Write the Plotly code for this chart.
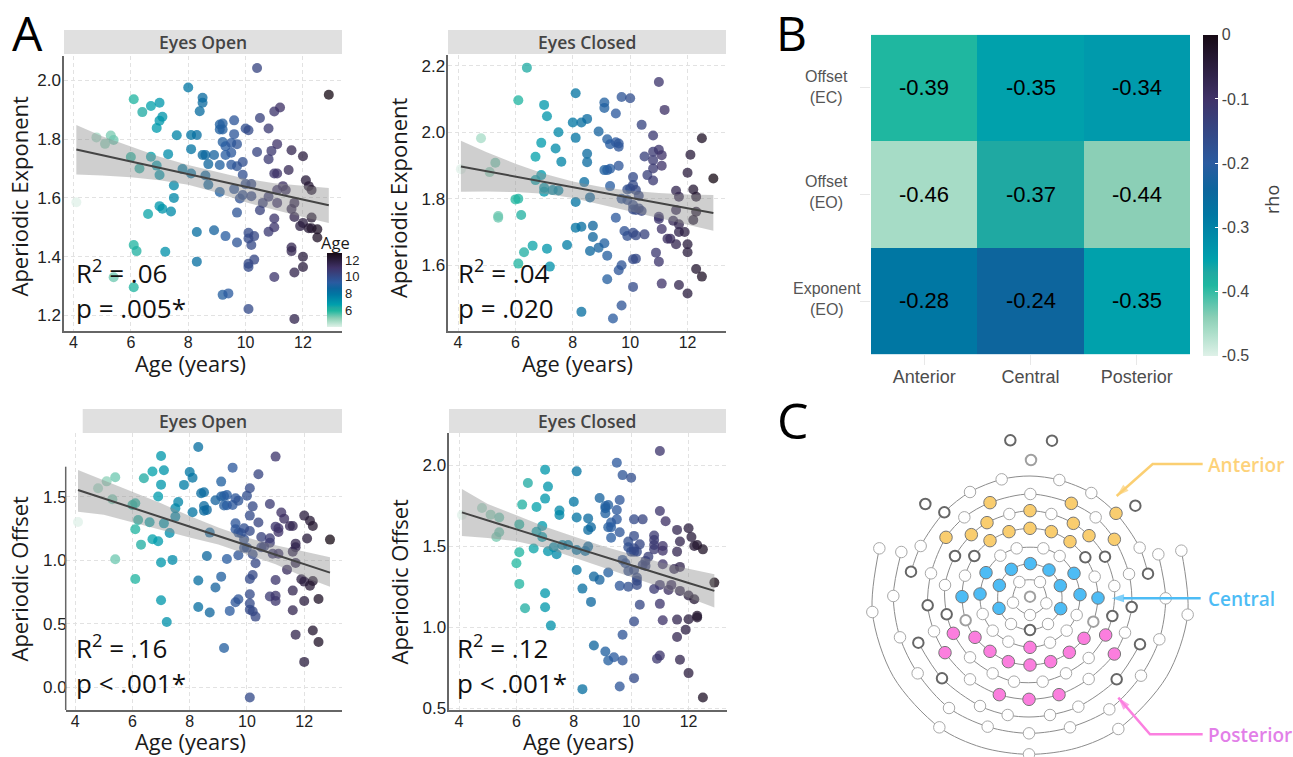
import plotly.graph_objects as go

W, H = 1293, 757
TICK_FONT = "Liberation Sans"
TEXT_FONT = "Open Sans"

# ---------- Panel A data: (age, value) ----------
EO_EXPONENT = [(4.1,1.585),(4.8,1.806),(5.1,1.784),(5.3,1.812),(5.4,1.797),(5.4,1.33),(6.0,1.739),(6.1,1.936),(6.1,1.44),(6.1,1.296),(6.2,1.419),(6.3,1.70),(6.4,1.892),(6.6,1.545),(6.7,1.913),(6.7,1.74),(6.9,1.838),(6.9,1.71),(7.0,1.924),(7.0,1.863),(7.0,1.678),(7.0,1.572),(7.1,1.876),(7.1,1.563),(7.2,1.417),(7.3,1.749),(7.4,1.554),(7.5,1.642),(7.5,1.60),(7.6,1.813),(7.8,1.698),(8.0,1.976),(8.1,1.814),(8.1,1.766),(8.1,1.683),(8.3,1.814),(8.3,1.484),(8.3,1.383),(8.4,1.895),(8.5,1.941),(8.5,1.924),(8.5,1.746),(8.6,1.746),(8.6,1.676),(8.7,1.715),(8.7,1.645),(8.9,1.746),(8.9,1.49),(9.1,1.85),(9.1,1.833),(9.1,1.712),(9.1,1.62),(9.2,1.853),(9.2,1.833),(9.2,1.79),(9.2,1.27),(9.3,1.776),(9.3,1.746),(9.3,1.47),(9.4,1.275),(9.5,1.787),(9.5,1.754),(9.5,1.713),(9.6,1.864),(9.6,1.817),(9.6,1.63),(9.7,1.783),(9.7,1.708),(9.7,1.55),(9.7,1.448),(9.8,1.598),(9.9,1.722),(9.9,1.679),(9.9,1.61),(10.0,1.836),(10.0,1.647),(10.1,1.83),(10.1,1.481),(10.1,1.462),(10.1,1.376),(10.1,1.365),(10.1,1.222),(10.2,1.647),(10.2,1.606),(10.2,1.44),(10.3,1.47),(10.3,1.39),(10.4,2.042),(10.4,1.756),(10.5,1.872),(10.5,1.558),(10.6,1.583),(10.8,1.836),(10.8,1.732),(10.8,1.604),(10.8,1.485),(10.9,1.76),(11.0,1.894),(11.0,1.683),(11.0,1.53),(11.0,1.50),(11.0,1.331),(11.1,1.783),(11.1,1.683),(11.1,1.627),(11.1,1.583),(11.2,1.908),(11.3,1.64),(11.4,1.627),(11.5,1.695),(11.6,1.762),(11.6,1.562),(11.6,1.431),(11.6,1.419),(11.7,1.583),(11.7,1.535),(11.7,1.346),(11.7,1.188),(11.9,1.504),(12.0,1.742),(12.0,1.515),(12.0,1.40),(12.0,1.365),(12.1,1.66),(12.2,1.64),(12.2,1.497),(12.3,1.627),(12.3,1.533),(12.3,1.497),(12.5,1.493),(12.5,1.465),(12.9,1.951)]

EC_EXPONENT = [(4.1,1.889),(4.8,1.982),(5.1,1.88),(5.3,1.908),(5.4,1.748),(5.4,1.743),(6.0,1.798),(6.1,2.096),(6.1,1.80),(6.1,1.605),(6.2,1.751),(6.3,1.639),(6.4,2.194),(6.6,1.659),(6.7,1.926),(6.7,1.856),(6.9,1.968),(6.9,1.871),(7.0,2.082),(7.0,1.833),(7.0,1.821),(7.1,2.048),(7.1,1.65),(7.2,1.596),(7.3,1.826),(7.4,1.951),(7.5,2.0),(7.5,1.825),(7.6,1.911),(7.8,1.661),(8.0,2.029),(8.1,2.117),(8.1,1.983),(8.1,1.79),(8.1,1.713),(8.3,2.029),(8.3,1.716),(8.3,1.46),(8.4,1.85),(8.5,2.04),(8.5,1.935),(8.5,1.91),(8.6,1.804),(8.6,1.643),(8.7,1.719),(8.7,1.685),(8.9,2.002),(8.9,1.653),(9.1,2.089),(9.1,2.073),(9.1,1.886),(9.1,1.666),(9.2,1.979),(9.2,1.886),(9.2,1.629),(9.2,1.558),(9.3,1.964),(9.3,1.89),(9.3,1.838),(9.4,1.44),(9.5,2.056),(9.5,1.97),(9.5,1.743),(9.6,1.966),(9.6,1.956),(9.6,1.899),(9.6,1.585),(9.7,2.106),(9.7,1.80),(9.7,1.60),(9.7,1.479),(9.8,1.703),(9.9,1.828),(9.9,1.796),(9.9,1.688),(10.0,2.102),(10.0,1.831),(10.1,1.865),(10.1,1.841),(10.1,1.781),(10.1,1.768),(10.1,1.698),(10.1,1.618),(10.1,1.535),(10.2,1.826),(10.2,1.766),(10.2,1.69),(10.2,1.62),(10.3,1.809),(10.3,1.771),(10.4,2.022),(10.4,1.763),(10.5,1.927),(10.5,1.693),(10.6,1.871),(10.8,1.99),(10.8,1.941),(10.8,1.916),(10.8,1.891),(10.8,1.855),(10.9,1.638),(11.0,2.151),(11.0,1.947),(11.0,1.746),(11.0,1.739),(11.0,1.611),(11.1,1.931),(11.1,1.899),(11.1,1.709),(11.1,1.545),(11.2,2.067),(11.3,1.68),(11.4,1.68),(11.5,1.734),(11.6,1.824),(11.6,1.766),(11.6,1.663),(11.7,1.806),(11.7,1.723),(11.7,1.70),(11.7,1.541),(11.9,1.70),(12.0,1.878),(12.0,1.663),(12.0,1.639),(12.0,1.515),(12.1,1.932),(12.2,1.828),(12.2,1.736),(12.3,1.806),(12.3,1.761),(12.3,1.589),(12.5,1.982),(12.5,1.566),(12.9,1.861)]

EO_OFFSET = [(4.1,1.303),(4.8,1.568),(5.1,1.623),(5.3,1.482),(5.4,1.655),(5.4,1.009),(6.0,1.437),(6.1,1.45),(6.1,1.245),(6.1,0.854),(6.2,1.319),(6.3,1.124),(6.4,1.647),(6.6,1.30),(6.7,1.70),(6.7,1.166),(6.9,1.503),(6.9,1.151),(7.0,1.823),(7.0,1.597),(7.0,0.983),(7.0,0.686),(7.1,1.71),(7.1,1.292),(7.2,0.515),(7.3,1.216),(7.4,1.004),(7.5,1.411),(7.5,1.345),(7.6,1.46),(7.8,1.595),(8.0,1.697),(8.1,1.652),(8.1,1.38),(8.3,1.894),(8.3,0.841),(8.3,0.633),(8.4,1.529),(8.5,1.537),(8.5,1.429),(8.5,1.392),(8.6,1.398),(8.6,1.035),(8.7,1.219),(8.7,0.589),(8.9,1.474),(8.9,0.786),(9.1,1.621),(9.1,1.503),(9.1,0.872),(9.2,1.508),(9.2,1.432),(9.2,0.31),(9.3,1.516),(9.3,1.434),(9.3,1.011),(9.4,0.602),(9.5,1.731),(9.5,1.437),(9.6,1.49),(9.6,1.292),(9.6,1.245),(9.6,0.67),(9.7,1.471),(9.7,1.219),(9.7,1.04),(9.7,0.694),(9.8,1.214),(9.9,1.253),(9.9,1.166),(9.9,1.10),(10.0,1.51),(10.0,1.10),(10.1,1.568),(10.1,1.353),(10.1,1.232),(10.1,0.854),(10.1,0.733),(10.1,0.66),(10.1,0.612),(10.1,-0.081),(10.2,1.426),(10.2,1.048),(10.2,0.885),(10.2,0.599),(10.3,0.977),(10.3,0.557),(10.4,1.679),(10.4,1.298),(10.5,1.185),(10.5,1.103),(10.6,1.109),(10.8,1.445),(10.8,1.174),(10.8,1.14),(10.8,0.715),(10.9,1.053),(11.0,1.818),(11.0,1.266),(11.0,0.846),(11.0,0.722),(11.0,0.68),(11.1,1.253),(11.1,1.224),(11.1,1.053),(11.2,1.377),(11.3,1.329),(11.4,0.927),(11.5,1.271),(11.6,1.271),(11.6,1.069),(11.6,0.762),(11.6,0.607),(11.7,1.132),(11.7,1.103),(11.7,0.98),(11.7,0.415),(11.9,0.851),(12.0,1.353),(12.0,0.833),(12.0,0.68),(12.0,0.2),(12.1,1.172),(12.2,1.313),(12.2,0.801),(12.3,1.271),(12.3,0.838),(12.3,0.447),(12.5,0.696),(12.5,0.357),(12.9,1.164)]

EC_OFFSET = [(4.1,1.692),(4.8,1.735),(5.1,1.694),(5.3,1.556),(5.4,1.676),(5.4,1.585),(6.0,1.394),(6.1,1.634),(6.1,1.462),(6.1,1.267),(6.2,1.756),(6.3,1.117),(6.4,1.889),(6.6,1.485),(6.7,1.741),(6.7,1.589),(6.9,1.624),(6.9,1.556),(7.0,1.971),(7.0,1.793),(7.0,1.209),(7.0,1.123),(7.1,1.867),(7.1,1.468),(7.2,1.01),(7.3,1.493),(7.4,1.45),(7.5,1.719),(7.5,1.692),(7.6,1.507),(7.8,1.507),(8.0,1.774),(8.1,1.961),(8.1,1.676),(8.1,1.476),(8.1,1.353),(8.3,1.238),(8.3,0.618),(8.4,1.47),(8.5,1.671),(8.5,1.6),(8.5,1.497),(8.6,1.616),(8.6,1.156),(8.7,1.312),(8.7,0.887),(8.9,1.797),(8.9,1.292),(9.1,1.747),(9.1,1.733),(9.1,1.702),(9.1,0.85),(9.2,1.754),(9.2,1.616),(9.2,1.337),(9.2,0.795),(9.3,1.645),(9.3,1.616),(9.3,1.552),(9.4,0.815),(9.5,2.014),(9.5,1.723),(9.5,1.665),(9.6,1.784),(9.6,1.585),(9.6,1.255),(9.6,0.634),(9.7,1.938),(9.7,1.415),(9.7,0.953),(9.7,0.795),(9.8,1.394),(9.9,1.528),(9.9,1.493),(9.9,1.347),(9.9,1.25),(10.0,1.922),(10.0,1.466),(10.1,1.665),(10.1,1.563),(10.1,1.487),(10.1,1.466),(10.1,1.353),(10.1,1.035),(10.1,0.686),(10.2,1.466),(10.2,1.306),(10.2,1.287),(10.2,1.261),(10.3,1.511),(10.3,1.138),(10.4,1.665),(10.4,1.384),(10.5,1.409),(10.5,1.378),(10.6,1.435),(10.8,1.565),(10.8,1.538),(10.8,1.507),(10.8,1.48),(10.8,1.236),(10.9,0.805),(11.0,2.086),(11.0,1.717),(11.0,1.261),(11.0,1.144),(11.0,0.825),(11.1,1.501),(11.1,1.472),(11.1,1.388),(11.1,1.043),(11.2,1.653),(11.3,1.23),(11.4,1.261),(11.5,1.359),(11.6,1.6),(11.6,1.466),(11.6,1.047),(11.6,0.94),(11.7,1.528),(11.7,1.372),(11.7,1.224),(11.7,0.799),(11.9,0.984),(12.0,1.61),(12.0,1.195),(12.0,1.049),(12.0,0.717),(12.1,1.556),(12.2,1.501),(12.2,1.172),(12.3,1.507),(12.3,1.07),(12.3,1.06),(12.5,1.48),(12.5,0.567),(12.9,1.275)]

# regression fit and confidence band, read at these ages
FIT_AGES = [4.1, 5, 6, 7, 8, 9, 10, 11, 12, 12.9]
EO_EXP_LINE = [1.765, 1.746, 1.724, 1.703, 1.681, 1.660, 1.638, 1.616, 1.595, 1.575]
EO_EXP_HI = [1.848, 1.810, 1.775, 1.740, 1.712, 1.688, 1.665, 1.650, 1.642, 1.634]
EO_EXP_LO = [1.680, 1.676, 1.670, 1.660, 1.645, 1.618, 1.585, 1.560, 1.535, 1.515]
EC_EXP_LINE = [1.897, 1.883, 1.867, 1.851, 1.835, 1.819, 1.803, 1.787, 1.771, 1.757]
EC_EXP_HI = [1.974, 1.940, 1.905, 1.875, 1.852, 1.835, 1.824, 1.817, 1.813, 1.811]
EC_EXP_LO = [1.821, 1.822, 1.820, 1.815, 1.802, 1.782, 1.762, 1.742, 1.722, 1.704]
EO_OFF_LINE = [1.555, 1.488, 1.414, 1.340, 1.266, 1.193, 1.118, 1.045, 0.970, 0.904]
EO_OFF_HI = [1.713, 1.630, 1.540, 1.450, 1.350, 1.260, 1.180, 1.120, 1.070, 1.025]
EO_OFF_LO = [1.384, 1.360, 1.300, 1.240, 1.180, 1.125, 1.050, 0.970, 0.870, 0.793]
EC_OFF_LINE = [1.708, 1.658, 1.603, 1.549, 1.494, 1.439, 1.384, 1.328, 1.273, 1.224]
EC_OFF_HI = [1.852, 1.760, 1.690, 1.620, 1.560, 1.500, 1.450, 1.400, 1.360, 1.326]
EC_OFF_LO = [1.563, 1.550, 1.530, 1.490, 1.430, 1.370, 1.310, 1.250, 1.180, 1.121]

# ---------- Panel B data ----------
REGIONS = ["Anterior", "Central", "Posterior"]
MEASURES = ["Exponent (EO)", "Offset (EO)", "Offset (EC)"]
MEASURE_LABELS = ["Exponent<br>(EO)", "Offset<br>(EO)", "Offset<br>(EC)"]
RHO = [[-0.28, -0.24, -0.35],
       [-0.46, -0.37, -0.44],
       [-0.39, -0.35, -0.34]]
RHO_TICKS = [-0.5, -0.4, -0.3, -0.2, -0.1, 0]
RHO_TICK_TEXT = ["-0.5", "-0.4", "-0.3", "-0.2", "-0.1", "0"]
AGE_TICKS = [6, 8, 10, 12]

COLORSCALE = [[0, "#dff1e8"], [0.08, "#a6dcc6"], [0.12, "#8bcfb6"], [0.22, "#1fb7a0"],
              [0.26, "#1fa9a2"], [0.30, "#00a1ac"], [0.32, "#009aac"], [0.44, "#0077a3"],
              [0.52, "#0d659d"], [0.60, "#2a5ba0"], [0.80, "#3f3268"], [1, "#170a15"]]

# ---------- Panel C data: electrodes (x, y, kind) on a schematic plane ----------
# kinds: w plain, d dark ring, g grey ring, a anterior, c central, p posterior, o wire only
RING_OUTER = [(88,385,"w"),(67,576,"w"),(130,770,"o"),(268,922,"w"),(395,982,"o"),(537,1003,"w"),(680,984,"o"),(805,927,"w"),(950,770,"o"),(1013,584,"w"),(994,392,"w")]
RING_SECOND = [(154,396,"w"),(130,528,"w"),(150,652,"w"),(203,760,"w"),(297,864,"w"),(413,920,"w"),(537,940,"w"),(660,922,"w"),(778,868,"w"),(873,767,"w"),(928,658,"w"),(947,535,"w"),(925,403,"w")]
RING_THIRD_TOP = [(183,455,"d"),(212,378,"w"),(283,277,"d"),(360,216,"w"),(455,178,"w"),(540,168,"o"),(628,180,"w"),(724,219,"w"),(798,280,"a"),(869,383,"w"),(894,461,"d")]
RING_THIRD_BOTTOM = [(205,668,"d"),(276,775,"d"),(390,858,"w"),(473,885,"w"),(537,891,"o"),(600,885,"w"),(685,860,"w"),(800,778,"d"),(870,673,"d")]
RING_FOURTH = [(233,556,"d"),(243,460,"w"),(288,352,"a"),(343,292,"w"),(420,248,"a"),(541,222,"w"),(664,250,"a"),(737,292,"w"),(793,358,"a"),(837,462,"w"),(845,561,"d"),(825,638,"w"),(793,702,"p"),(716,777,"w"),(627,824,"p"),(537,838,"p"),(448,824,"p"),(360,778,"w"),(285,698,"p"),(252,634,"w"),(233,556,"d")]
RING_FIFTH = [(290,583,"d"),(285,495,"w"),(315,408,"d"),(364,344,"a"),(411,308,"a"),(478,282,"w"),(540,272,"a"),(604,282,"w"),(670,310,"a"),(717,347,"a"),(765,410,"d"),(793,498,"w"),(787,588,"d"),(767,645,"p"),(716,714,"w"),(648,760,"w"),(578,785,"w"),(492,785,"w"),(428,760,"w"),(360,712,"w"),(310,640,"p"),(290,583,"d")]
RING_SIXTH = [(336,530,"c"),(345,467,"w"),(373,408,"d"),(420,362,"a"),(477,335,"a"),(540,325,"a"),(604,335,"a"),(660,365,"a"),(706,412,"d"),(734,470,"w"),(744,534,"c"),(730,605,"g"),(702,655,"p"),(658,697,"p"),(602,725,"p"),(540,735,"p"),(475,725,"p"),(420,694,"p"),(375,652,"p"),(347,601,"g"),(336,530,"c")]
RING_SEVENTH = [(390,522,"c"),(408,458,"c"),(451,407,"w"),(500,385,"w"),(580,385,"w"),(629,408,"w"),(672,460,"c"),(690,524,"c"),(680,585,"w"),(650,632,"w"),(600,668,"w"),(540,682,"p"),(475,665,"w"),(428,632,"w"),(398,582,"w"),(390,522,"c")]
RING_EIGHTH = [(448,496,"c"),(484,448,"c"),(541,431,"c"),(597,450,"c"),(631,497,"c"),(632,566,"c"),(594,612,"w"),(540,630,"d"),(483,612,"w"),(447,565,"c"),(448,496,"c")]
RING_INNER = [(508,486,"w"),(570,486,"w"),(589,550,"w"),(540,585,"w"),(489,548,"w"),(508,486,"w")]
LOOSE = [(481,61,"d"),(606,62,"d"),(543,120,"g"),(226,252,"d"),(856,257,"d"),(540,530,"g")]
RINGS = [RING_OUTER, RING_SECOND, RING_THIRD_TOP, RING_THIRD_BOTTOM, RING_FOURTH,
         RING_FIFTH, RING_SIXTH, RING_SEVENTH, RING_EIGHTH, RING_INNER]
LEADERS = [("Anterior", "#fbcf72", "#fdd27a", [1058, 908, 800], [132, 132, 228]),
           ("Central", "#4dbcf5", "#4dbcf5", [1052, 920, 785], [535, 535, 535]),
           ("Posterior", "#fb80e0", "#e27fe8", [1058, 900, 805], [943, 943, 833])]
LEADER_LABELS = {"Anterior": (1206, 465), "Central": (1206, 599), "Posterior": (1206, 735)}
KIND_STYLE = {"w": ("white", "#a8a8a8", 1, 11.5), "d": ("white", "#666666", 2, 10.5),
              "g": ("white", "#a0a0a0", 2, 10.5), "a": ("#f9cd6f", "#777777", 1, 12.5),
              "c": ("#4dbcf5", "#777777", 1, 12.5), "p": ("#fb7ede", "#777777", 1, 12.5)}


def px(x):
    return x / W


def py(y):
    return 1 - y / H


PANELS = [
    dict(pts=EO_EXPONENT, line=EO_EXP_LINE, hi=EO_EXP_HI, lo=EO_EXP_LO, ax="", box=(64, 342, 56, 331),
         xr=(3.67, 13.36), yr=(1.147, 2.083), yt=[1.2, 1.4, 1.6, 1.8, 2.0], fmt=".1f", strip=(64, 342, 30, 54),
         strip_text="Eyes Open", strip_c=(203, 42), xt_c=(190.7, 364), yt_c=(18.5, 196), ytitle="Aperiodic Exponent",
         stats=("R<sup>2</sup> = .06", "p = .005*"), stat_xy=(74, 272, 308)),
    dict(pts=EC_EXPONENT, line=EC_EXP_LINE, hi=EC_EXP_HI, lo=EC_EXP_LO, ax="2", box=(448.3, 725.7, 55, 331),
         xr=(3.66, 13.33), yr=(1.4025, 2.232), yt=[1.6, 1.8, 2.0, 2.2], fmt=".1f", strip=(448, 726, 30, 54),
         strip_text="Eyes Closed", strip_c=(586.7, 42), xt_c=(577, 364), yt_c=(398.5, 197.5), ytitle="Aperiodic Exponent",
         stats=("R<sup>2</sup> = .04", "p = .020"), stat_xy=(456, 272, 308)),
    dict(pts=EO_OFFSET, line=EO_OFF_LINE, hi=EO_OFF_HI, lo=EO_OFF_LO, ax="3", box=(65.7, 342.3, 433, 710),
         xr=(3.67, 13.33), yr=(-0.179, 2.004), yt=[0.0, 0.5, 1.0, 1.5], fmt=".1f", strip=(82.7, 342, 409, 433),
         strip_text="Eyes Open", strip_c=(203, 421), xt_c=(190.7, 741.7), yt_c=(18.5, 579), ytitle="Aperiodic Offset",
         stats=("R<sup>2</sup> = .16", "p < .001*"), stat_xy=(74, 647, 683)),
    dict(pts=EC_OFFSET, line=EC_OFF_LINE, hi=EC_OFF_HI, lo=EC_OFF_LO, ax="4", box=(449.3, 726.7, 433, 710),
         xr=(3.66, 13.33), yr=(0.4895, 2.1975), yt=[0.5, 1.0, 1.5, 2.0], fmt=".1f", strip=(449, 726, 409, 433),
         strip_text="Eyes Closed", strip_c=(586.7, 421), xt_c=(578, 741.7), yt_c=(398.5, 582), ytitle="Aperiodic Offset",
         stats=("R<sup>2</sup> = .12", "p < .001*"), stat_xy=(455, 647, 683)),
]

fig = go.Figure()
layout = dict(width=W, height=H, margin=dict(l=0, r=0, t=0, b=0, autoexpand=False), paper_bgcolor="white",
              plot_bgcolor="white", showlegend=False, font=dict(family=TEXT_FONT, color="#222222"))
annotations = []
shapes = []


def note(text, x, y, size, color="#1a1a1a", family=TEXT_FONT, angle=0, anchor="center", weight=None):
    f = dict(size=size, color=color, family=family)
    if weight:
        f["weight"] = weight
    annotations.append(dict(text=text, x=px(x), y=py(y), xref="paper", yref="paper", showarrow=False,
                            xanchor=anchor, yanchor="middle", textangle=angle, font=f))


for i, p in enumerate(PANELS):
    ax = p["ax"]
    xa, ya = f"x{ax}", f"y{ax}"
    l, r, t, b = p["box"]
    ages = [a for a, _ in p["pts"]]
    vals = [v for _, v in p["pts"]]
    marker = dict(size=10, color=ages, cmin=4.1, cmax=12.9, colorscale=COLORSCALE, opacity=0.76, line=dict(width=0))
    if i == 0:
        marker.update(showscale=True, colorbar=dict(
            x=px(327), xanchor="left", y=py(326.5), yanchor="bottom", thickness=15, thicknessmode="pixels",
            len=73.5, lenmode="pixels", xpad=0, ypad=0, outlinewidth=0, tickvals=AGE_TICKS, ticks="",
            tickfont=dict(size=13, family=TICK_FONT, color="#222222")))
    fig.add_trace(go.Scatter(x=ages, y=vals, mode="markers", marker=marker, xaxis=xa, yaxis=ya, name=p["strip_text"]))
    fig.add_trace(go.Scatter(x=FIT_AGES + FIT_AGES[::-1], y=p["hi"] + p["lo"][::-1], mode="lines", fill="toself",
                             fillcolor="rgba(140,140,140,0.42)", line=dict(width=0), xaxis=xa, yaxis=ya, hoverinfo="skip"))
    fig.add_trace(go.Scatter(x=FIT_AGES, y=p["line"], mode="lines", line=dict(color="#444444", width=2),
                             xaxis=xa, yaxis=ya))
    spine_y = i != 2
    xname, yname = f"xaxis{ax}", f"yaxis{ax}"
    layout[xname] = dict(domain=[px(l), px(r)], range=list(p["xr"]), anchor=ya, tickvals=[4, 6, 8, 10, 12],
                         showgrid=True, gridcolor="#e2e2e2", griddash="4px,3px", gridwidth=1, zeroline=False,
                         showline=True, linecolor="#666666", linewidth=1.5, ticks="", ticklabelstandoff=-4,
                         tickfont=dict(size=16, family=TICK_FONT, color="#222222"))
    layout[yname] = dict(domain=[py(b), py(t)], range=list(p["yr"]), anchor=xa, tickvals=p["yt"], tickformat=p["fmt"],
                         showgrid=True, gridcolor="#e2e2e2", griddash="4px,3px", gridwidth=1, zeroline=False,
                         showline=spine_y, linecolor="#666666", linewidth=1.5, ticks="", ticklabelstandoff=-2,
                         tickfont=dict(size=17, family=TICK_FONT, color="#222222"))
    sl, sr, st, sb = p["strip"]
    shapes.append(dict(type="rect", xref="paper", yref="paper", x0=px(sl), x1=px(sr), y0=py(sb), y1=py(st),
                       fillcolor="#e0e0e0", line=dict(width=0)))
    note(p["strip_text"], p["strip_c"][0], p["strip_c"][1], 17.5, color="#444444", weight=600)
    note("Age (years)", p["xt_c"][0], p["xt_c"][1], 21.8)
    note(p["ytitle"], p["yt_c"][0], p["yt_c"][1], 22, angle=-90)
    sx, sy1, sy2 = p["stat_xy"]
    note(p["stats"][0], sx, sy1, 26, color="#111111", anchor="left")
    note(p["stats"][1], sx, sy2, 26, color="#111111", anchor="left")

# partial left spine of the lower-left panel
shapes.append(dict(type="line", xref="paper", yref="paper", x0=px(65.7), x1=px(65.7), y0=py(710), y1=py(466.7),
                   line=dict(color="#666666", width=1.5)))
note("Age", 335, 242, 16.5)

# ---------- Panel B ----------
fig.add_trace(go.Heatmap(z=RHO, x=REGIONS, y=MEASURES, zmin=-0.5, zmax=0, colorscale=COLORSCALE,
                         texttemplate="%{z:.2f}", textfont=dict(size=22, family=TICK_FONT, color="black"),
                         xaxis="x5", yaxis="y5",
                         colorbar=dict(x=px(1203.3), xanchor="left", y=py(355.7), yanchor="bottom", thickness=15,
                                       thicknessmode="pixels", len=321, lenmode="pixels", xpad=0, ypad=0,
                                       outlinewidth=0, tickvals=RHO_TICKS, ticktext=RHO_TICK_TEXT, ticks="inside",
                                       tickcolor="white", ticklen=3,
                                       tickfont=dict(size=16, family=TICK_FONT, color="#444444"))))
layout["xaxis5"] = dict(domain=[px(871), px(1190)], anchor="y5", categoryorder="array", categoryarray=REGIONS,
                        ticks="outside", ticklen=10, tickcolor="#e8e8e8", showgrid=False, zeroline=False,
                        ticklabelstandoff=-4, tickfont=dict(size=18, family=TICK_FONT, color="#4d4d4d"))
layout["yaxis5"] = dict(domain=[py(354.3), py(34.7)], anchor="x5", categoryorder="array", categoryarray=MEASURES,
                        ticks="outside", ticklen=10, tickcolor="#e8e8e8", showgrid=False, zeroline=False,
                        showticklabels=False)
for label, yc in zip(MEASURE_LABELS, (299, 192, 87)):
    annotations.append(dict(text=label, x=px(826.7), y=py(yc), xref="paper", yref="paper", showarrow=False,
                            xanchor="center", yanchor="middle", align="center",
                            font=dict(size=16, family=TICK_FONT, color="#555555")))
note("rho", 1272, 200, 18, color="#444444", angle=-90)

# ---------- Panel C ----------
for ring in RINGS:
    fig.add_trace(go.Scatter(x=[e[0] for e in ring], y=[e[1] for e in ring], mode="lines",
                             line=dict(color="#8c8c8c", width=1, shape="spline", smoothing=0.9),
                             xaxis="x6", yaxis="y6", hoverinfo="skip"))
electrodes = [e for ring in RINGS for e in ring] + LOOSE
for kind, (fill, edge, lw, size) in KIND_STYLE.items():
    group = sorted({(e[0], e[1]) for e in electrodes if e[2] == kind})
    fig.add_trace(go.Scatter(x=[g[0] for g in group], y=[g[1] for g in group], mode="markers",
                             marker=dict(size=size, color=fill, line=dict(color=edge, width=lw)),
                             xaxis="x6", yaxis="y6", cliponaxis=False, hoverinfo="skip"))
layout["xaxis6"] = dict(domain=[px(850), px(1293)], range=[0, 1329], anchor="y6", visible=False)
layout["yaxis6"] = dict(domain=[py(757), py(420)], range=[1011, 0], anchor="x6", visible=False)
for name, line_color, text_color, lx, ly in LEADERS:
    fig.add_trace(go.Scatter(x=lx, y=ly, mode="lines+markers", line=dict(color=line_color, width=2.5),
                             marker=dict(symbol=["circle", "circle", "arrow"], size=[0, 0, 13], color=line_color,
                                         angleref="previous", line=dict(width=0)),
                             xaxis="x6", yaxis="y6", hoverinfo="skip"))
    note(name, LEADER_LABELS[name][0], LEADER_LABELS[name][1], 19, color=text_color, anchor="left", weight=600)

note("A", 27, 33, 48, color="#000000")
note("B", 791, 33, 48, color="#000000")
note("C", 793, 420, 50, color="#000000")

fig.update_layout(**layout, annotations=annotations, shapes=shapes)
fig.write_html("out.html", config={"displayModeBar": False},
               post_script="document.body.style.margin='0';document.body.style.overflow='hidden';")
